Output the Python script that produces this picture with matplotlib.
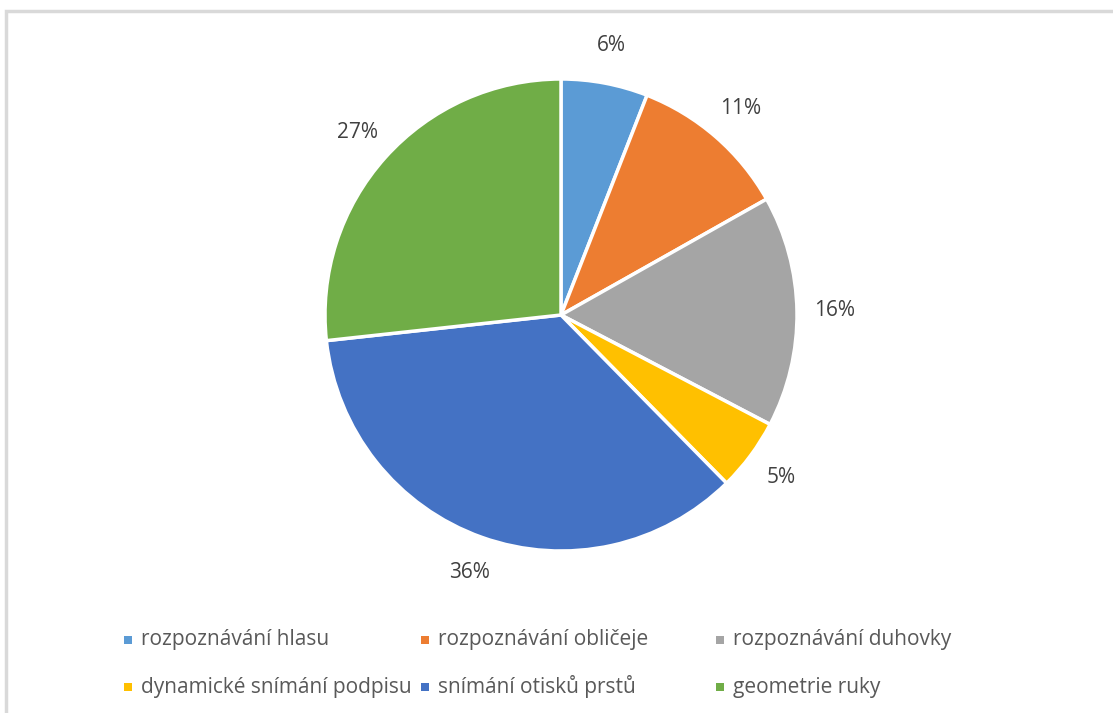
import matplotlib
matplotlib.use('Agg')
import matplotlib.pyplot as plt
from matplotlib.patches import Rectangle

# ======= DATA ========
categories = ['rozpoznávání hlasu', 'rozpoznávání obličeje', 'rozpoznávání duhovky',
              'dynamické snímání podpisu', 'snímání otisků prstů', 'geometrie ruky']
values = [6, 11, 16, 5, 36, 27]
colors = ['#5B9BD5', '#ED7D31', '#A5A5A5', '#FFC000', '#4472C4', '#70AD47']
# =====================

W, H = 1113, 713
plt.rcParams['font.family'] = ['Open Sans', 'DejaVu Sans']

fig = plt.figure(figsize=(W / 100, H / 100), dpi=100)
ax = fig.add_axes([0, 0, 1, 1])
ax.set_xlim(0, W)
ax.set_ylim(0, H)
ax.axis('off')

# chart border (right/bottom edges fall outside the picture)
ax.add_patch(Rectangle((6, -20), W + 20, H - 11 + 20, fill=False,
                       edgecolor='#D9D9D9', linewidth=2.5))

# pie
wedges, texts, autotexts = ax.pie(
    values, colors=colors, center=(561, H - 315), radius=236,
    startangle=90, counterclock=False,
    autopct='%1.0f%%', pctdistance=1.16,
    wedgeprops=dict(edgecolor='white', linewidth=2.5),
    textprops=dict(color='#404040', fontsize=15))
ax.set_xlim(0, W)
ax.set_ylim(0, H)

# legend, 3 columns x 2 rows
col_x = [128, 425, 720]
row_y = [H - 640, H - 687]
for i, (lab, col) in enumerate(zip(categories, colors)):
    x = col_x[i % 3]
    y = row_y[i // 3]
    ax.add_patch(Rectangle((x - 4, y - 4), 8, 8, facecolor=col, edgecolor='none'))
    ax.text(x + 13, y, lab, va='center', ha='left', fontsize=15, color='#595959')

fig.savefig('out.png', dpi=100)
